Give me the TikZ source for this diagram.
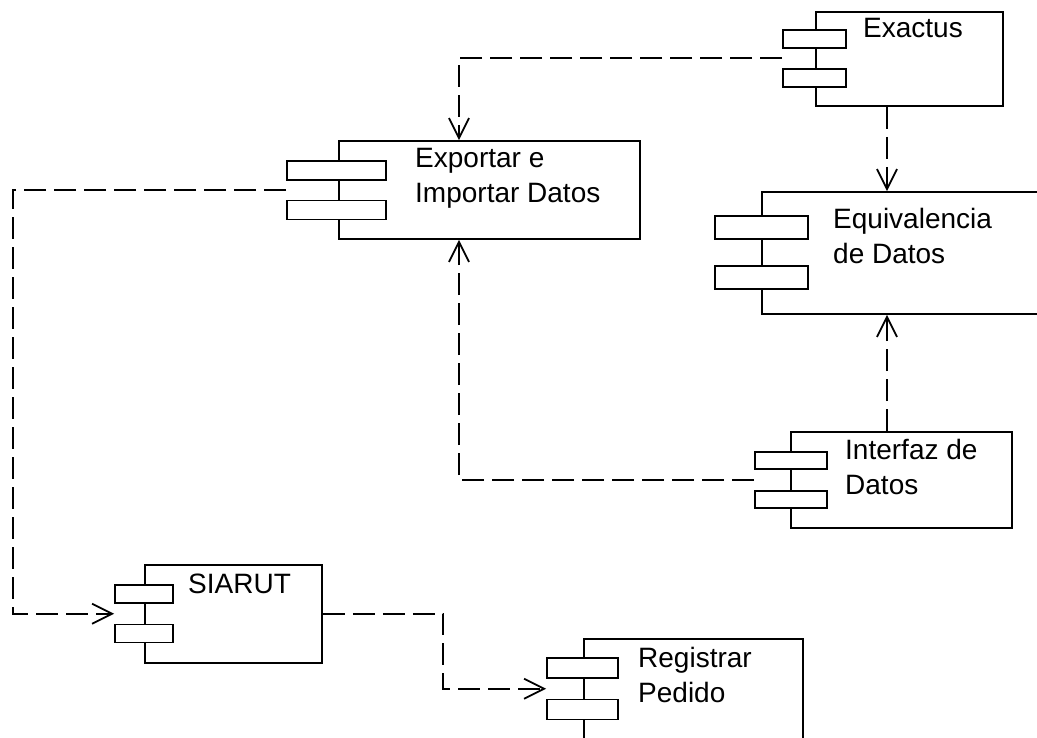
\documentclass[tikz,border=0pt]{standalone}
\usepackage{fontspec}
\setmainfont{Liberation Sans}
\usetikzlibrary{arrows.meta,calc}

\begin{document}
\begin{tikzpicture}[
    x=1pt, y=-1pt,
    body/.style={draw, line width=1.8pt, inner sep=0pt, fill=white},
    tab/.style={draw, line width=1.8pt, inner sep=0pt, fill=white},
    lbl/.style={anchor=base west, inner sep=0pt, align=left, font=\fontsize{28}{35}\selectfont},
    dep/.style={line width=2pt, dash pattern=on 22pt off 8pt, -{Straight Barb[length=20pt,width=20pt,line width=1.8pt]}}
]
\useasboundingbox (0,0) rectangle (1037,738);
\clip (0,0) rectangle (1037,738);

% components (label base = last line)
\node[body, minimum width=187pt, minimum height=94pt] (exactus) at (909.5,59) {};
\node[tab, minimum width=63pt, minimum height=18pt] (exactus-t1) at (814.5,39) {};
\node[tab, minimum width=63pt, minimum height=18pt] (exactus-t2) at (814.5,78) {};
\node[lbl] (exactus-l) at (863,38) {Exactus};

\node[body, minimum width=301pt, minimum height=98pt] (exportar) at (489.5,190) {};
\node[tab, minimum width=99pt, minimum height=19pt] (exportar-t1) at (336.5,170.5) {};
\node[tab, minimum width=99pt, minimum height=19pt] (exportar-t2) at (336.5,210) {};
\node[lbl] (exportar-l) at (415,203) {Exportar e\\Importar Datos};

\node[body, minimum width=298pt, minimum height=122pt] (equiv) at (911,253) {};
\node[tab, minimum width=93pt, minimum height=23pt] (equiv-t1) at (761.5,227.5) {};
\node[tab, minimum width=93pt, minimum height=23pt] (equiv-t2) at (761.5,277.5) {};
\node[lbl] (equiv-l) at (833,264) {Equivalencia\\de Datos};

\node[body, minimum width=221pt, minimum height=96pt] (interfaz) at (901.5,480) {};
\node[tab, minimum width=72pt, minimum height=17pt] (interfaz-t1) at (791,460.5) {};
\node[tab, minimum width=72pt, minimum height=17pt] (interfaz-t2) at (791,499.5) {};
\node[lbl] (interfaz-l) at (845,494) {Interfaz de\\Datos};

\node[body, minimum width=177pt, minimum height=98pt] (siarut) at (233.5,614) {};
\node[tab, minimum width=58pt, minimum height=18pt] (siarut-t1) at (144,594) {};
\node[tab, minimum width=58pt, minimum height=18pt] (siarut-t2) at (144,633.5) {};
\node[lbl] (siarut-l) at (188,593) {SIARUT};

\node[body, minimum width=219pt, minimum height=121pt] (registrar) at (693.5,699.5) {};
\node[tab, minimum width=71pt, minimum height=20pt] (registrar-t1) at (582.5,668) {};
\node[tab, minimum width=71pt, minimum height=20pt] (registrar-t2) at (582.5,709.5) {};
\node[lbl] (registrar-l) at (638,702) {Registrar\\Pedido};

% connector ends between the tabs
\coordinate (exactus-p) at ($(exactus-t1.west)!0.5!(exactus-t2.west)$);
\coordinate (exportar-p) at ($(exportar-t1.west)!0.5!(exportar-t2.west)$);
\coordinate (interfaz-p) at ($(interfaz-t1.west)!0.5!(interfaz-t2.west)$);
\coordinate (siarut-p) at ($(siarut-t1.west)!0.5!(siarut-t2.west)$);
\coordinate (registrar-p) at ($(registrar-t1.west)!0.5!(registrar-t2.west)$);
\coordinate (lft) at (13,0);

% dependencies
\draw[dep] (exactus-p) -| ([xshift=-30.5pt]exportar.north);
\draw[dep] ([xshift=-22.5pt]exactus.south) -- ([xshift=-24pt]equiv.north);
\draw[dep] ([xshift=-14.5pt]interfaz.north) -- ([xshift=-24pt]equiv.south);
\draw[dep] (interfaz-p) -| ([xshift=-30.5pt]exportar.south);
\draw[dep] (exportar-p) -- (exportar-p -| lft) |- (siarut-p);
\draw[dep] (siarut.east) -| ($(siarut.east)!0.54!(registrar-p)$) |- (registrar-p);
\end{tikzpicture}
\end{document}
